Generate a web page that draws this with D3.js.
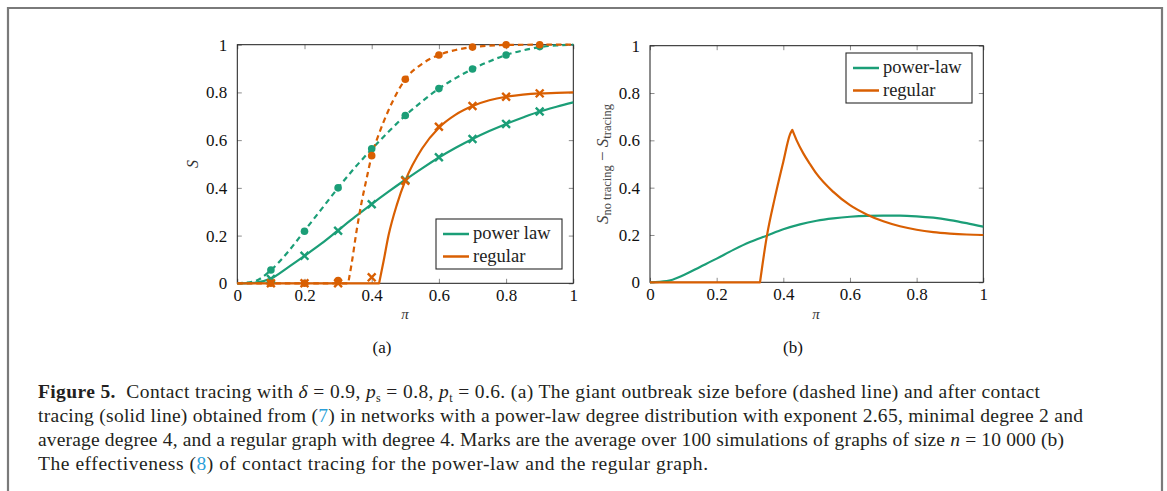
<!DOCTYPE html>
<html>
<head>
<meta charset="utf-8">
<script src="https://cdn.jsdelivr.net/npm/d3@7"></script>
<style>
  body { margin: 0; background: #fff; }
  text { white-space: pre; }
</style>
</head>
<body>
<svg id="fig" width="1167" height="491"></svg>
<script>
// ---- data ----
var piTicks = [0, 0.2, 0.4, 0.6, 0.8, 1];
var sTicks = [0, 0.2, 0.4, 0.6, 0.8, 1];

// simulation marks
var simPi = [0.1, 0.2, 0.3, 0.4, 0.5, 0.6, 0.7, 0.8, 0.9];
var simPowerNoTracing = [0.056, 0.218, 0.40, 0.564, 0.703, 0.816, 0.898, 0.957, 0.992];
var simPowerTracing = [0.018, 0.115, 0.22, 0.331, 0.433, 0.528, 0.605, 0.668, 0.72];
var simRegularNoTracing = [0, 0, 0.012, 0.535, 0.855, 0.957, 0.99, 1.0, 1.0];
var simRegularTracing = [0, 0, 0, 0.025, 0.43, 0.656, 0.743, 0.782, 0.796];

// theory curves
var piGrid = [0, 0.05, 0.1, 0.15, 0.2, 0.25, 0.3, 0.35, 0.4, 0.45, 0.5, 0.55, 0.6, 0.65, 0.7, 0.75, 0.8, 0.85, 0.9, 0.95, 1];
var powerNoTracing = [0, 0.008, 0.055, 0.13, 0.22, 0.31, 0.40, 0.485, 0.562, 0.635, 0.703, 0.762, 0.816, 0.86, 0.898, 0.93, 0.957, 0.976, 0.99, 0.997, 1.0];
var powerTracing = [0, 0.002, 0.02, 0.066, 0.115, 0.166, 0.222, 0.278, 0.332, 0.384, 0.434, 0.482, 0.527, 0.568, 0.605, 0.638, 0.668, 0.695, 0.72, 0.74, 0.758];

var regularNoTracingPi = [0, 0.33, 0.34, 0.355, 0.37, 0.385, 0.4, 0.42, 0.45, 0.5, 0.55, 0.6, 0.65, 0.7, 0.75, 0.8, 0.9, 1];
var regularNoTracing = [0, 0, 0.08, 0.22, 0.34, 0.44, 0.535, 0.62, 0.725, 0.855, 0.92, 0.957, 0.978, 0.99, 0.996, 0.999, 1, 1];
var regularNoTracingBreaks = [0.33];

var regularTracingPi = [0, 0.422, 0.435, 0.45, 0.475, 0.5, 0.55, 0.6, 0.65, 0.7, 0.75, 0.8, 0.85, 0.9, 0.95, 1];
var regularTracing = [0, 0, 0.09, 0.2, 0.33, 0.43, 0.565, 0.652, 0.707, 0.743, 0.767, 0.782, 0.791, 0.796, 0.798, 0.8];
var regularTracingBreaks = [0.422];

// effectiveness (panel b)
var diffPower = [0, 0.005, 0.03, 0.065, 0.10, 0.137, 0.17, 0.197, 0.224, 0.245, 0.26, 0.27, 0.277, 0.281, 0.282, 0.282, 0.279, 0.273, 0.263, 0.25, 0.235];
var diffRegularPi = [0, 0.33, 0.35, 0.375, 0.4, 0.42, 0.427, 0.44, 0.46, 0.48, 0.5, 0.55, 0.6, 0.65, 0.7, 0.75, 0.8, 0.85, 0.9, 0.95, 1];
var diffRegular = [0, 0, 0.19, 0.36, 0.51, 0.625, 0.644, 0.60, 0.545, 0.50, 0.458, 0.382, 0.326, 0.287, 0.258, 0.237, 0.222, 0.212, 0.206, 0.202, 0.2];
var diffRegularBreaks = [0.33, 0.427];

var legendA = ["power law", "regular"];
var legendB = ["power-law", "regular"];

// caption, one array per line: [text, style]
var captionLines = [
  [["Figure 5.", "b"], ["  Contact tracing with "], ["δ", "i"], [" = 0.9, "], ["p", "i"], ["s", "sub"], [" = 0.8, "], ["p", "i"], ["t", "sub"], [" = 0.6. (a) The giant outbreak size before (dashed line) and after contact"]],
  [["tracing (solid line) obtained from ("], ["7", "link"], [") in networks with a power-law degree distribution with exponent 2.65, minimal degree 2 and"]],
  [["average degree 4, and a regular graph with degree 4. Marks are the average over 100 simulations of graphs of size "], ["n", "i"], [" = 10 000 (b)"]],
  [["The effectiveness ("], ["8", "link"], [") of contact tracing for the power-law and the regular graph."]]
];
var captionEnds = [1040, 1083, 1064, 708];

// ---- styles ----
var GREEN = "#1b9e77";
var ORANGE = "#d95f02";
var SERIF = "'Liberation Serif', 'DejaVu Serif', serif";
var TICK_LEN = 4.5;

var svg = d3.select("#fig");
svg.append("rect").attr("width", 1167).attr("height", 491).attr("fill", "#fff");

// outer frame of the figure box
svg.append("path")
  .attr("d", "M8,491 V8 H1162 V491")
  .attr("fill", "none")
  .attr("stroke", "#7a7a7a")
  .attr("stroke-width", 2.2);

function makePanel(left, right, top, bottom) {
  var x = d3.scaleLinear().domain([0, 1]).range([left, right]);
  var y = d3.scaleLinear().domain([0, 1]).range([bottom, top]);
  var g = svg.append("g");

  function styleAxis(sel) {
    sel.select(".domain").remove();
    sel.selectAll("line").attr("stroke", "#8c8c8c").attr("stroke-width", 1);
    sel.selectAll("text").attr("font-family", SERIF).attr("font-size", 17).attr("fill", "#111");
  }
  g.append("g").attr("transform", "translate(0," + bottom + ")")
    .call(d3.axisBottom(x).tickValues(piTicks).tickSize(-TICK_LEN).tickPadding(5.5).tickFormat(d3.format("")))
    .call(styleAxis);
  g.append("g").attr("transform", "translate(0," + top + ")")
    .call(d3.axisTop(x).tickValues(piTicks).tickSize(-TICK_LEN).tickFormat(""))
    .call(styleAxis);
  g.append("g").attr("transform", "translate(" + left + ",0)")
    .call(d3.axisLeft(y).tickValues(sTicks).tickSize(-TICK_LEN).tickPadding(10).tickFormat(d3.format("")))
    .call(styleAxis);
  g.append("g").attr("transform", "translate(" + right + ",0)")
    .call(d3.axisRight(y).tickValues(sTicks).tickSize(-TICK_LEN).tickFormat(""))
    .call(styleAxis);

  g.append("rect")
    .attr("x", left).attr("y", top)
    .attr("width", right - left).attr("height", bottom - top)
    .attr("fill", "none").attr("stroke", "#1a1a1a").attr("stroke-width", 1);

  return { x: x, y: y, g: g };
}

// path through points with sharp corners at the break positions
function curvePath(p, xs, ys, breaks) {
  var pts = xs.map(function(v, i) { return [v, ys[i]]; });
  var cuts = [0];
  (breaks || []).forEach(function(b) { cuts.push(xs.indexOf(b)); });
  cuts.push(xs.length - 1);
  var line = d3.line()
    .x(function(d) { return p.x(d[0]); })
    .y(function(d) { return p.y(d[1]); })
    .curve(d3.curveMonotoneX);
  var d = "";
  for (var k = 0; k < cuts.length - 1; k++) {
    var seg = pts.slice(cuts[k], cuts[k + 1] + 1);
    var s = line(seg);
    d += (k === 0) ? s : s.replace(/^M[^LC]*/, "");
  }
  return d;
}

function drawCurve(p, xs, ys, breaks, color, dashed) {
  p.g.append("path")
    .attr("d", curvePath(p, xs, ys, breaks))
    .attr("fill", "none")
    .attr("stroke", color)
    .attr("stroke-width", 2.2)
    .attr("stroke-linejoin", "round")
    .attr("stroke-dasharray", dashed ? "5.5,4" : null);
}

function drawCircles(p, vals, color) {
  p.g.append("g").selectAll("circle")
    .data(vals).enter().append("circle")
    .attr("cx", function(d, i) { return p.x(simPi[i]); })
    .attr("cy", function(d) { return p.y(d); })
    .attr("r", 3.8)
    .attr("fill", color);
}

function drawCrosses(p, vals, color) {
  var s = 3.9;
  p.g.append("g").selectAll("path")
    .data(vals).enter().append("path")
    .attr("d", function(d, i) {
      var cx = p.x(simPi[i]), cy = p.y(d);
      return "M" + (cx - s) + "," + (cy - s) + "L" + (cx + s) + "," + (cy + s) +
             "M" + (cx - s) + "," + (cy + s) + "L" + (cx + s) + "," + (cy - s);
    })
    .attr("stroke", color)
    .attr("stroke-width", 2.4)
    .attr("fill", "none");
}

function drawLegend(p, x0, y0, w, h, labels) {
  var lg = p.g.append("g");
  lg.append("rect")
    .attr("x", x0).attr("y", y0).attr("width", w).attr("height", h)
    .attr("fill", "#fff").attr("stroke", "#2a2a2a").attr("stroke-width", 1.1);
  [GREEN, ORANGE].forEach(function(c, i) {
    var yy = y0 + 15 + i * 22.5;
    lg.append("line")
      .attr("x1", x0 + 7).attr("x2", x0 + 33)
      .attr("y1", yy).attr("y2", yy)
      .attr("stroke", c).attr("stroke-width", 2.5);
    lg.append("text")
      .attr("x", x0 + 37).attr("y", yy + 5)
      .attr("font-family", SERIF).attr("font-size", 18.5).attr("fill", "#222")
      .text(labels[i]);
  });
}

// ---- panel (a) ----
var pa = makePanel(237.3, 573.3, 44.7, 283.3);
drawCurve(pa, piGrid, powerNoTracing, [], GREEN, true);
drawCurve(pa, piGrid, powerTracing, [], GREEN, false);
drawCurve(pa, regularNoTracingPi, regularNoTracing, regularNoTracingBreaks, ORANGE, true);
drawCurve(pa, regularTracingPi, regularTracing, regularTracingBreaks, ORANGE, false);
drawCircles(pa, simPowerNoTracing, GREEN);
drawCrosses(pa, simPowerTracing, GREEN);
drawCircles(pa, simRegularNoTracing, ORANGE);
drawCrosses(pa, simRegularTracing, ORANGE);
drawLegend(pa, 436, 219, 126, 50, legendA);

pa.g.append("text")
  .attr("x", 405).attr("y", 319)
  .attr("text-anchor", "middle")
  .attr("font-family", SERIF).attr("font-style", "italic").attr("font-size", 15).attr("fill", "#333")
  .text("π");
pa.g.append("text")
  .attr("transform", "translate(198,164) rotate(-90)")
  .attr("text-anchor", "middle")
  .attr("font-family", SERIF).attr("font-style", "italic").attr("font-size", 16).attr("fill", "#333")
  .text("S");
svg.append("text")
  .attr("x", 382).attr("y", 353)
  .attr("text-anchor", "middle")
  .attr("font-family", SERIF).attr("font-size", 17).attr("fill", "#111")
  .text("(a)");

// ---- panel (b) ----
var pb = makePanel(650, 983.3, 45.7, 282.3);
drawCurve(pb, piGrid, diffPower, [], GREEN, false);
drawCurve(pb, diffRegularPi, diffRegular, diffRegularBreaks, ORANGE, false);
drawLegend(pb, 846, 53, 126, 50, legendB);

pb.g.append("text")
  .attr("x", 816).attr("y", 319)
  .attr("text-anchor", "middle")
  .attr("font-family", SERIF).attr("font-style", "italic").attr("font-size", 15).attr("fill", "#333")
  .text("π");
var yl = pb.g.append("text")
  .attr("transform", "translate(608,164) rotate(-90)")
  .attr("text-anchor", "middle")
  .attr("font-family", SERIF).attr("fill", "#444");
yl.append("tspan").attr("font-style", "italic").attr("font-size", 17).text("S");
yl.append("tspan").attr("font-size", 12.5).attr("dy", 3).text("no tracing");
yl.append("tspan").attr("font-size", 17).attr("dy", -3).text(" − ");
yl.append("tspan").attr("font-style", "italic").attr("font-size", 17).text("S");
yl.append("tspan").attr("font-size", 12.5).attr("dy", 3).text("tracing");
svg.append("text")
  .attr("x", 793).attr("y", 353)
  .attr("text-anchor", "middle")
  .attr("font-family", SERIF).attr("font-size", 17).attr("fill", "#111")
  .text("(b)");

// ---- caption ----
var capX = 38;
captionLines.forEach(function(parts, li) {
  var t = svg.append("text")
    .attr("x", capX).attr("y", 397.5 + li * 24)
    .attr("font-family", SERIF).attr("font-size", 19.5).attr("fill", "#231f20")
    .attr("textLength", captionEnds[li] - capX)
    .attr("lengthAdjust", "spacing");
  var shifted = false;
  parts.forEach(function(pt) {
    var ts = t.append("tspan").text(pt[0]);
    if (shifted) { ts.attr("dy", -4); shifted = false; }
    if (pt[1] === "b") ts.attr("font-weight", "bold");
    if (pt[1] === "i") ts.attr("font-style", "italic");
    if (pt[1] === "link") ts.attr("fill", "#2b9fd9");
    if (pt[1] === "sub") { ts.attr("font-size", 12).attr("dy", 4); shifted = true; }
  });
});
</script>
</body>
</html>
